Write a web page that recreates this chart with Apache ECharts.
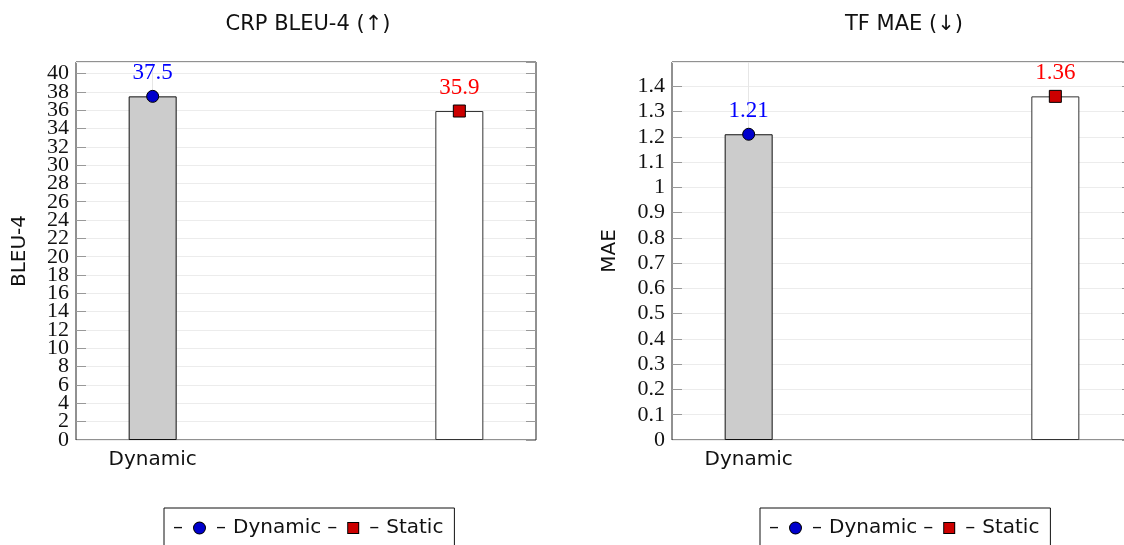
<!DOCTYPE html>
<html>
<head>
<meta charset="utf-8">
<style>
body { margin: 0; background: #fff; }
#chart { width: 1124px; height: 545px; }
</style>
<script src="https://cdn.jsdelivr.net/npm/echarts@6/dist/echarts.min.js"></script>
</head>
<body>
<div id="chart"></div>
<script>
// data
const methods = ['Dynamic', 'Static'];
const bleu4 = [37.5, 35.9];
const mae = [1.21, 1.36];
const titles = ['CRP BLEU-4 (\u2191)', 'TF MAE (\u2193)'];
const yNames = ['BLEU-4', 'MAE'];
const yIntervals = [2, 0.1];
// spacer slot between the two bars (pgfplots-style x spacing)
const slots = [methods[0], ' ', methods[1]];

const SANS = 'DejaVu Sans';
const SERIF = 'Liberation Serif';
const gridLeft = [76, 672];
const GRID_W = 460;
const dotColor = '#0000cc';
const sqColor = '#cc0000';

const grids = [], xAxes = [], yAxes = [], series = [], titleOpts = [], legends = [];

function at(values, idx) {
  return slots.map(s => (s === methods[idx] ? values[idx] : '-'));
}

function addPanel(g, values, nameGap) {
  const yMax = Math.max(...values) * 1.1;
  // right panel runs past the canvas edge, as in the reference
  grids.push({ left: gridLeft[g], top: 62, width: GRID_W, height: 378,
    outerBoundsMode: 'none', containLabel: false,
    show: true, borderColor: '#222', borderWidth: 1 });

  xAxes.push({
    gridIndex: g, type: 'category', data: slots, boundaryGap: true, position: 'bottom',
    axisLine: { show: false }, axisTick: { show: false },
    axisLabel: { interval: 0, margin: 10, fontFamily: SANS, fontSize: 20, color: '#111',
      formatter: v => (v === methods[0] ? v : '') }
  });
  // top axis only for the single inward tick at "Dynamic"
  xAxes.push({
    gridIndex: g, type: 'category', data: slots, position: 'top', boundaryGap: true,
    axisLine: { show: false, onZero: false }, axisLabel: { show: false },
    axisTick: { show: true, inside: true, alignWithLabel: true, length: 9,
      interval: i => i === 0, lineStyle: { color: '#888' } }
  });

  const tickStyle = { show: true, inside: true, length: 10, lineStyle: { color: '#999' } };
  const labelStyle = { margin: 7, fontFamily: SERIF, fontSize: 22, lineHeight: 16, color: '#111' };
  yAxes.push({
    gridIndex: g, type: 'value', min: 0, max: yMax, interval: yIntervals[g],
    name: yNames[g], nameLocation: 'middle', nameGap: nameGap,
    nameTextStyle: { fontFamily: SANS, fontSize: 20, color: '#111' },
    axisLine: { show: false }, axisTick: tickStyle,
    axisLabel: Object.assign({ showMinLabel: false, showMaxLabel: false }, labelStyle),
    splitLine: { lineStyle: { color: '#ececec' } }
  });
  yAxes.push({
    gridIndex: g, type: 'value', position: 'right', min: 0, max: yMax, interval: yIntervals[g],
    axisLine: { show: false }, axisTick: tickStyle,
    axisLabel: { show: false }, splitLine: { show: false }
  });
  // carries only the "0" label, so crowded neighbours are not hidden
  yAxes.push({
    gridIndex: g, type: 'value', position: 'left', min: 0, max: yMax, interval: yIntervals[g],
    axisLine: { show: false }, axisTick: { show: false }, splitLine: { show: false },
    axisLabel: Object.assign({ showMinLabel: true, showMaxLabel: false,
      formatter: v => (v === 0 ? '0' : '') }, labelStyle)
  });

  const xi = g * 2, yi = g * 3;
  series.push({
    name: methods[0], type: 'bar', xAxisIndex: xi, yAxisIndex: yi,
    data: at(values, 0), barWidth: 48, barGap: '-100%',
    itemStyle: { color: '#cccccc', borderColor: '#111', borderWidth: 1 },
    markLine: { silent: true, symbol: 'none', z: 1, label: { show: false },
      lineStyle: { color: '#e6e6e6', type: 'solid', width: 1 },
      data: [[{ coord: [methods[0], values[0]] }, { coord: [methods[0], yMax] }]] }
  });
  series.push({
    name: methods[1], type: 'bar', xAxisIndex: xi, yAxisIndex: yi,
    data: at(values, 1), barWidth: 48, barGap: '-100%',
    itemStyle: { color: '#ffffff', borderColor: '#333', borderWidth: 1 }
  });
  const labelBase = { show: true, position: 'top', distance: 5, fontFamily: SERIF, fontSize: 23 };
  series.push({
    name: methods[0], type: 'scatter', xAxisIndex: xi, yAxisIndex: yi, z: 5,
    data: at(values, 0), symbol: 'circle', symbolSize: 12,
    itemStyle: { color: dotColor, borderColor: '#000', borderWidth: 1, opacity: 1 },
    label: Object.assign({ color: '#0000ff' }, labelBase)
  });
  series.push({
    name: methods[1], type: 'scatter', xAxisIndex: xi, yAxisIndex: yi, z: 5,
    data: at(values, 1), symbol: 'rect', symbolSize: 12,
    itemStyle: { color: sqColor, borderColor: '#000', borderWidth: 1, opacity: 1 },
    label: Object.assign({ color: '#ff0000' }, labelBase)
  });

  titleOpts.push({ text: titles[g], left: gridLeft[g] + GRID_W / 2 - 3, top: 9, textAlign: 'center',
    textStyle: { fontFamily: SANS, fontSize: 21, fontWeight: 'normal', color: '#111' } });

  legends.push({
    data: methods, left: gridLeft[g] + 88, top: 508, orient: 'horizontal',
    selectedMode: false, itemWidth: 0, itemHeight: 0, itemGap: 0,
    padding: [10, 11, 8, 3], borderColor: '#111', borderWidth: 1, borderRadius: 0,
    formatter: n => '\u2013{g| }{' + (n === methods[0] ? 'dot' : 'sq') + '| }{g| }\u2013{h| }' + n,
    textStyle: { fontFamily: SANS, fontSize: 20, color: '#111',
      rich: {
        g: { width: 11 },
        h: { width: 7 },
        dot: { width: 11, height: 11, borderRadius: 6, backgroundColor: dotColor,
          borderColor: '#000', borderWidth: 1 },
        sq: { width: 10, height: 10, backgroundColor: sqColor, borderColor: '#000', borderWidth: 1 }
      } }
  });
}

addPanel(0, bleu4, 46);
addPanel(1, mae, 52);

const chart = echarts.init(document.getElementById('chart'), null, { renderer: 'canvas' });
chart.setOption({
  animation: false,
  backgroundColor: '#fff',
  title: titleOpts,
  legend: legends,
  grid: grids,
  xAxis: xAxes,
  yAxis: yAxes,
  series: series
});
</script>
</body>
</html>
